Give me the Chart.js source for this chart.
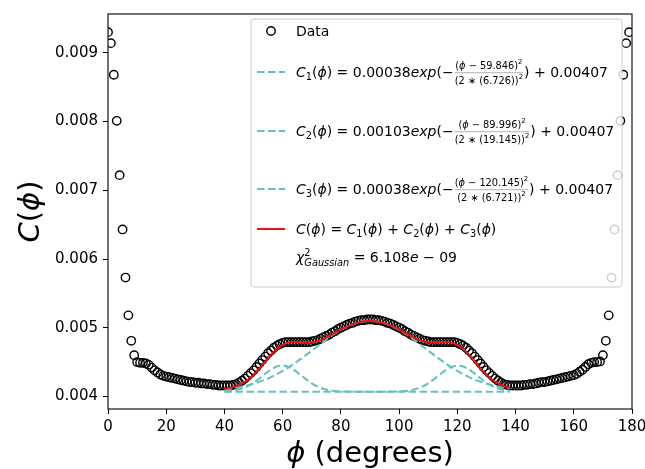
<!DOCTYPE html>
<html>
<head>
<meta charset="utf-8">
<script src="https://cdn.jsdelivr.net/npm/chart.js@4.4.1/dist/chart.umd.min.js"></script>
<style>
  html, body { margin: 0; padding: 0; background: #fff; }
  canvas { display: block; }
</style>
</head>
<body>
<canvas id="corrChart" width="645" height="469"></canvas>
<script>
// measured C(phi), one value per degree, 0..180
const dataC = [
  0.00930, 0.00914, 0.00868, 0.00801, 0.00722, 0.00643, 0.00573, 0.00518, 0.00481, 0.00460,
  0.00450, 0.00449, 0.00449, 0.00448, 0.00446, 0.00442, 0.00438, 0.00435, 0.00432, 0.00430,
  0.00429, 0.00428, 0.00427, 0.00426, 0.00425, 0.00424, 0.00423, 0.00422, 0.00421, 0.00421,
  0.00420, 0.00420, 0.00419, 0.00419, 0.00418, 0.00418, 0.00417, 0.00417, 0.00416, 0.00416,
  0.00416, 0.00416, 0.00416, 0.00417, 0.00418, 0.00420, 0.00423, 0.00426, 0.00430, 0.00434,
  0.00438, 0.00443, 0.00448, 0.00453, 0.00458, 0.00463, 0.00467, 0.00471, 0.00474, 0.00476,
  0.00478, 0.00479, 0.00479, 0.00479, 0.00479, 0.00479, 0.00479, 0.00479, 0.00479, 0.00479,
  0.00480, 0.00481, 0.00482, 0.00484, 0.00486, 0.00488, 0.00490, 0.00493, 0.00495, 0.00498,
  0.00500, 0.00502, 0.00504, 0.00506, 0.00507, 0.00509, 0.00510, 0.00511, 0.00511, 0.00512,
  0.00512, 0.00512, 0.00511, 0.00511, 0.00510, 0.00509, 0.00507, 0.00506, 0.00504, 0.00502,
  0.00500, 0.00498, 0.00495, 0.00493, 0.00490, 0.00488, 0.00486, 0.00484, 0.00482, 0.00481,
  0.00480, 0.00479, 0.00479, 0.00479, 0.00479, 0.00479, 0.00479, 0.00479, 0.00479, 0.00479,
  0.00478, 0.00476, 0.00474, 0.00471, 0.00467, 0.00463, 0.00458, 0.00453, 0.00448, 0.00443,
  0.00438, 0.00434, 0.00430, 0.00426, 0.00423, 0.00420, 0.00418, 0.00417, 0.00416, 0.00416,
  0.00416, 0.00416, 0.00416, 0.00417, 0.00417, 0.00418, 0.00418, 0.00419, 0.00420, 0.00421,
  0.00421, 0.00422, 0.00423, 0.00424, 0.00425, 0.00426, 0.00427, 0.00428, 0.00429, 0.00430,
  0.00431, 0.00433, 0.00436, 0.00439, 0.00443, 0.00447, 0.00449, 0.00450, 0.00450, 0.00451,
  0.00460, 0.00481, 0.00518, 0.00573, 0.00643, 0.00722, 0.00801, 0.00868, 0.00914, 0.00930
];

// gaussian fit curves, read every 2 degrees from 40 to 138
const fitStart = 40;
const fitStep = 2;
const fitC1 = [
  0.004075, 0.004081, 0.004094, 0.004116, 0.004151, 0.004200, 0.004262, 0.004331, 0.004393, 0.004436,
  0.004450, 0.004431, 0.004384, 0.004320, 0.004252, 0.004192, 0.004144, 0.004112, 0.004091, 0.004080,
  0.004074, 0.004072, 0.004071, 0.00407, 0.00407, 0.00407, 0.00407, 0.00407, 0.00407, 0.00407,
  0.00407, 0.00407, 0.00407, 0.00407, 0.00407, 0.00407, 0.00407, 0.00407, 0.00407, 0.00407,
  0.00407, 0.00407, 0.00407, 0.00407, 0.00407, 0.00407, 0.00407, 0.00407, 0.00407, 0.00407
];
const fitC2 = [
  0.004104, 0.004114, 0.004127, 0.004143, 0.004163, 0.004186, 0.004214, 0.004246, 0.004283, 0.004325,
  0.004372, 0.004424, 0.004480, 0.004539, 0.004602, 0.004667, 0.004732, 0.004797, 0.004858, 0.004916,
  0.004969, 0.005014, 0.005051, 0.005078, 0.005094, 0.005100, 0.005094, 0.005078, 0.005051, 0.005014,
  0.004969, 0.004916, 0.004858, 0.004797, 0.004732, 0.004667, 0.004602, 0.004539, 0.004480, 0.004424,
  0.004372, 0.004325, 0.004283, 0.004246, 0.004214, 0.004186, 0.004163, 0.004143, 0.004127, 0.004114
];
const fitC3 = [
  0.00407, 0.00407, 0.00407, 0.00407, 0.00407, 0.00407, 0.00407, 0.00407, 0.00407, 0.00407,
  0.00407, 0.00407, 0.00407, 0.00407, 0.00407, 0.00407, 0.00407, 0.00407, 0.00407, 0.00407,
  0.00407, 0.00407, 0.00407, 0.00407, 0.00407, 0.00407, 0.00407, 0.00407, 0.004071, 0.004072,
  0.004074, 0.004080, 0.004091, 0.004112, 0.004144, 0.004192, 0.004252, 0.004320, 0.004384, 0.004431,
  0.004450, 0.004436, 0.004393, 0.004331, 0.004262, 0.004200, 0.004151, 0.004116, 0.004094, 0.004081
];
const fitSum = [
  0.004109, 0.004126, 0.004151, 0.004189, 0.004243, 0.004316, 0.004406, 0.004506, 0.004606, 0.004691,
  0.004752, 0.004785, 0.004794, 0.004789, 0.004784, 0.004788, 0.004806, 0.004838, 0.004880, 0.004926,
  0.004973, 0.005016, 0.005051, 0.005078, 0.005094, 0.005100, 0.005094, 0.005078, 0.005051, 0.005016,
  0.004973, 0.004926, 0.004880, 0.004838, 0.004806, 0.004788, 0.004784, 0.004789, 0.004794, 0.004785,
  0.004752, 0.004691, 0.004606, 0.004506, 0.004406, 0.004316, 0.004243, 0.004189, 0.004151, 0.004126
];

const yTicks = [0.004, 0.005, 0.006, 0.007, 0.008, 0.009];

// legend texts
const gaussAmps = ['0.00038', '0.00103', '0.00038'];
const gaussCenters = ['59.846', '89.996', '120.145'];
const gaussSigmas = ['6.726', '19.145', '6.721'];
const gaussOffset = '0.00407';
const chiMantissa = '6.108';
const chiExponent = '09';

const TEAL = '#63c1c0';
const RED = '#ee1111';
const FONT = '"DejaVu Sans"';
const LEG = 14;
const TITLE = 29;

function setFont(ctx, size, italic) {
    ctx.font = (italic ? 'italic ' : '') + size + 'px ' + FONT;
}

function runsWidth(ctx, runs, base) {
    let w = 0;
    for (const r of runs) {
        if (r.frac) {
            const fb = base * r.frac.s;
            w += Math.max(runsWidth(ctx, r.frac.num, fb), runsWidth(ctx, r.frac.den, fb)) + 2;
            continue;
        }
        setFont(ctx, base * (r.s || 1), r.i);
        if (!r.stay) w += ctx.measureText(r.t).width;
    }
    return w;
}

function drawRuns(ctx, runs, x, y, base) {
    for (const r of runs) {
        if (r.frac) {
            const fb = base * r.frac.s;
            const nw = runsWidth(ctx, r.frac.num, fb);
            const dw = runsWidth(ctx, r.frac.den, fb);
            const w = Math.max(nw, dw) + 2;
            drawRuns(ctx, r.frac.num, x + (w - nw) / 2, y - base * 0.58, fb);
            drawRuns(ctx, r.frac.den, x + (w - dw) / 2, y + base * 0.47, fb);
            ctx.save();
            ctx.globalAlpha = 0.5;
            ctx.fillRect(x + 1, y - base * 0.32, w - 2, 0.6);
            ctx.restore();
            x += w;
            continue;
        }
        setFont(ctx, base * (r.s || 1), r.i);
        ctx.fillText(r.t, x, y + (r.dy || 0) * base);
        if (!r.stay) x += ctx.measureText(r.t).width;
    }
    return x;
}

function gaussRow(k) {
    return [
        { t: 'C', i: 1 }, { t: String(k + 1), s: 0.7, dy: 0.2 }, { t: '(' }, { t: 'ϕ', i: 1 },
        { t: ') = ' + gaussAmps[k] }, { t: 'exp', i: 1 }, { t: '(−' },
        { frac: {
            s: 0.7,
            num: [{ t: '(' }, { t: 'ϕ', i: 1 }, { t: ' − ' + gaussCenters[k] + ')' }, { t: '2', s: 0.7, dy: -0.45 }],
            den: [{ t: '(2 ∗ (' + gaussSigmas[k] + '))' }, { t: '2', s: 0.7, dy: -0.45 }]
        } },
        { t: ') + ' + gaussOffset }
    ];
}

function cPhi(sub) {
    const r = [{ t: 'C', i: 1 }];
    if (sub) r.push({ t: sub, s: 0.7, dy: 0.2 });
    r.push({ t: '(' }, { t: 'ϕ', i: 1 }, { t: ')' });
    return r;
}

const legendRows = [
    { y: 31, handle: 'marker', runs: [{ t: 'Data' }] },
    { y: 72, handle: 'dash', runs: gaussRow(0) },
    { y: 131, handle: 'dash', runs: gaussRow(1) },
    { y: 189, handle: 'dash', runs: gaussRow(2) },
    { y: 229, handle: 'solid', runs: [...cPhi(), { t: ' = ' }, ...cPhi('1'), { t: ' + ' }, ...cPhi('2'), { t: ' + ' }, ...cPhi('3')] },
    { y: 257, handle: null, runs: [
        { t: 'χ', i: 1 }, { t: '2', s: 0.7, dy: -0.45, stay: 1 }, { t: 'Gaussian', i: 1, s: 0.7, dy: 0.28 },
        { t: ' = ' + chiMantissa }, { t: 'e', i: 1 }, { t: ' − ' + chiExponent }
    ] }
];

const mathLegend = {
    id: 'mathLegend',
    afterDatasetsDraw(chart) {
        // axes box
        const { ctx, chartArea: a } = chart;
        ctx.save();
        ctx.strokeStyle = '#000';
        ctx.lineWidth = 1.1;
        ctx.strokeRect(a.left, a.top, a.right - a.left, a.bottom - a.top);
        ctx.restore();
    },
    afterDraw(chart) {
        const { ctx, chartArea: a } = chart;
        ctx.save();
        ctx.fillStyle = '#000';
        ctx.textBaseline = 'alphabetic';

        // axis titles
        const yTitle = cPhi();
        const yw = runsWidth(ctx, yTitle, TITLE);
        ctx.save();
        ctx.translate(39, (a.top + a.bottom) / 2);
        ctx.rotate(-Math.PI / 2);
        drawRuns(ctx, yTitle, -yw / 2, 0, TITLE);
        ctx.restore();
        const xTitle = [{ t: 'ϕ', i: 1 }, { t: ' (degrees)' }];
        const xw = runsWidth(ctx, xTitle, TITLE);
        drawRuns(ctx, xTitle, (a.left + a.right) / 2 - xw / 2, 462, TITLE);

        // legend frame
        const bx = 251, by = 19, bw = 371, bh = 268;
        ctx.beginPath();
        ctx.roundRect(bx, by, bw, bh, 3);
        ctx.fillStyle = 'rgba(255,255,255,0.8)';
        ctx.fill();
        ctx.strokeStyle = '#cccccc';
        ctx.lineWidth = 1;
        ctx.stroke();

        const hx0 = bx + 6, hx1 = hx0 + 28, tx = hx1 + 11;
        for (const row of legendRows) {
            if (row.handle === 'marker') {
                ctx.beginPath();
                ctx.arc((hx0 + hx1) / 2, row.y, 4.2, 0, Math.PI * 2);
                ctx.strokeStyle = '#000';
                ctx.lineWidth = 1.4;
                ctx.stroke();
            } else if (row.handle) {
                ctx.beginPath();
                ctx.moveTo(hx0, row.y);
                ctx.lineTo(hx1, row.y);
                ctx.strokeStyle = row.handle === 'dash' ? TEAL : RED;
                ctx.lineWidth = 2;
                ctx.setLineDash(row.handle === 'dash' ? [7.5, 3.5] : []);
                ctx.stroke();
                ctx.setLineDash([]);
            }
            ctx.fillStyle = '#000';
            drawRuns(ctx, row.runs, tx, row.y + 5, LEG);
        }
        ctx.restore();
    }
};

const toPoints = (arr) => arr.map((v, i) => ({ x: fitStart + fitStep * i, y: v }));
const fitLine = (data, color, dashed, order) => ({
    data: toPoints(data),
    showLine: true,
    borderColor: color,
    borderWidth: 2,
    borderDash: dashed ? [7.5, 3.5] : [],
    pointRadius: 0,
    cubicInterpolationMode: 'monotone',
    order: order
});

new Chart(document.getElementById('corrChart'), {
    type: 'scatter',
    data: {
        datasets: [
            {
                data: dataC.map((v, i) => ({ x: i, y: v })),
                pointStyle: 'circle',
                pointRadius: 4.2,
                pointBorderWidth: 1.4,
                pointBorderColor: '#000',
                pointBackgroundColor: 'rgba(0,0,0,0)',
                clip: 0,
                order: 5
            },
            fitLine(fitC1, TEAL, true, 4),
            fitLine(fitC2, TEAL, true, 3),
            fitLine(fitC3, TEAL, true, 2),
            fitLine(fitSum, RED, false, 1)
        ]
    },
    options: {
        responsive: false,
        animation: false,
        devicePixelRatio: 1,
        layout: { padding: { left: 0, right: 13, top: 12, bottom: 0 } },
        plugins: { legend: { display: false }, tooltip: { enabled: false } },
        scales: {
            x: {
                type: 'linear',
                min: 0,
                max: 180,
                afterFit: (s) => { s.height = 60; s.paddingRight = 0; },
                border: { display: false },
                grid: { drawOnChartArea: false, drawTicks: true, tickLength: 5, color: '#000', tickWidth: 1 },
                ticks: { stepSize: 20, maxRotation: 0, autoSkip: false, padding: 4, color: '#000', font: { family: 'DejaVu Sans', size: 15 } }
            },
            y: {
                type: 'linear',
                min: 0.003818,
                max: 0.009564,
                afterFit: (s) => { s.width = 108; },
                afterBuildTicks: (s) => { s.ticks = yTicks.map(v => ({ value: v })); },
                border: { display: false },
                grid: { drawOnChartArea: false, drawTicks: true, tickLength: 5, color: '#000', tickWidth: 1 },
                ticks: { padding: 5, color: '#000', font: { family: 'DejaVu Sans', size: 15 }, callback: (v) => v.toFixed(3) }
            }
        }
    },
    plugins: [mathLegend]
});
</script>
</body>
</html>
